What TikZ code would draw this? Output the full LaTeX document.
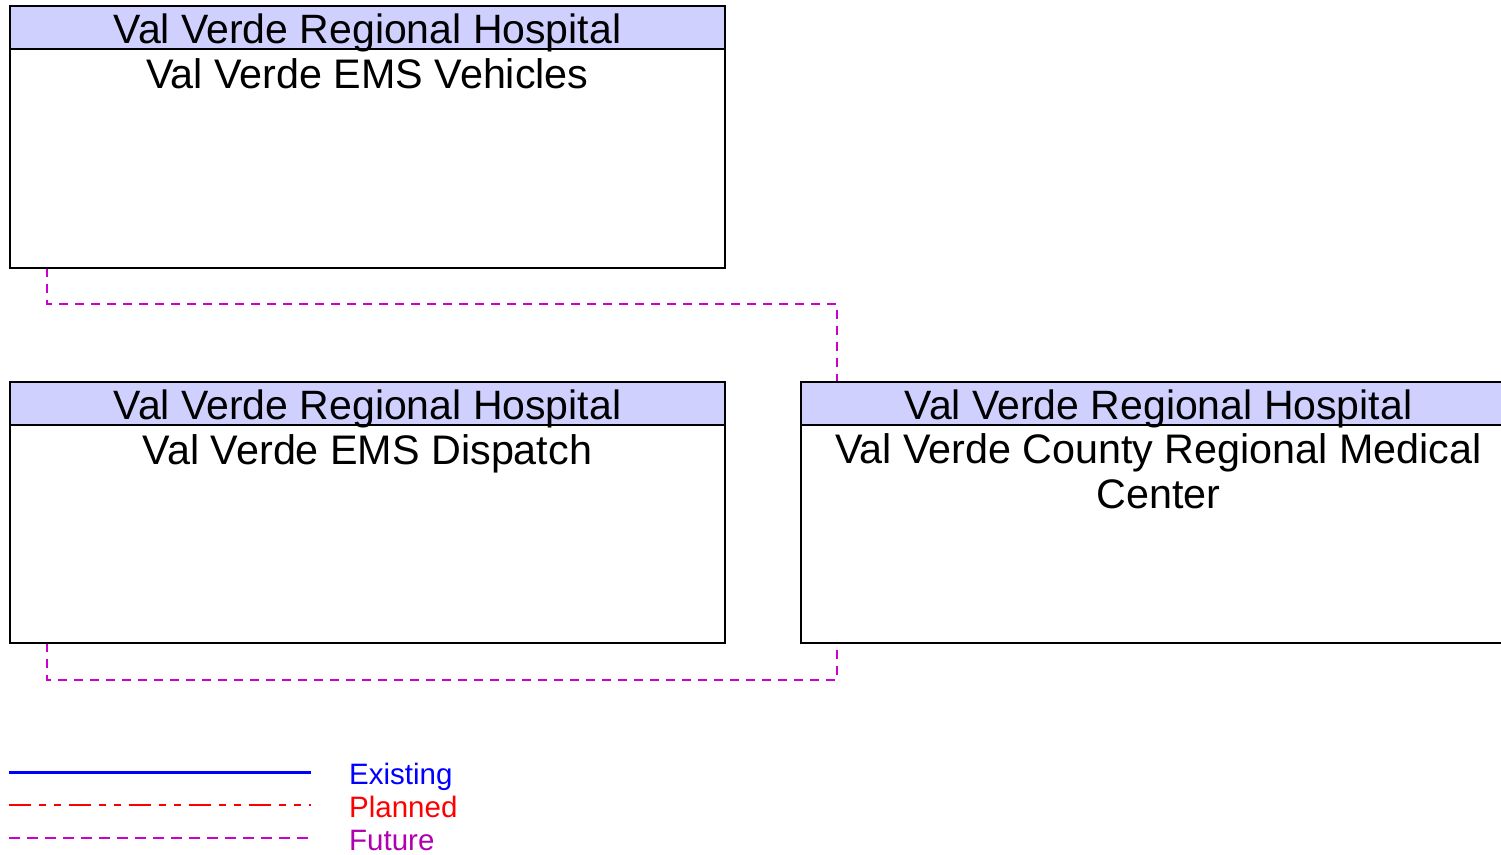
\documentclass[tikz,border=0pt]{standalone}
\usepackage{fontspec}
\setmainfont{Liberation Sans}
\definecolor{hdr}{RGB}{208,208,255}
\definecolor{fut}{RGB}{204,0,204}
\definecolor{futtxt}{RGB}{176,0,176}
\begin{document}
\begin{tikzpicture}[x=1pt,y=-1pt,
  box/.style={draw=black,line width=1.3pt,fill=white},
  hdrbox/.style={draw=black,line width=1.3pt,fill=hdr},
  hdrtext/.style={font=\fontsize{41}{45}\selectfont,inner sep=0pt,anchor=base},
  bodytext/.style={font=\fontsize{41.3}{45}\selectfont,inner sep=0pt,anchor=base,align=center},
  future/.style={draw=fut,line width=1.4pt,dash pattern=on 9pt off 7pt},
  planned/.style={draw=red,line width=1.4pt,dash pattern=on 22pt off 8pt on 7pt off 8pt on 7pt off 8pt},
  existing/.style={draw=blue,line width=3pt},
  legtext/.style={font=\fontsize{29.5}{32}\selectfont,inner sep=0pt,anchor=base west}]
\useasboundingbox (0,0) rectangle (1501,854);
\begin{scope}
\clip (0,0) rectangle (1501,854);
% connectors (drawn first)
\coordinate (v1) at (47,268);
\coordinate (v2) at (47,304);
\coordinate (v3) at (837,304);
\coordinate (v4) at (837,382);
\draw[future] (v1) -- (v2) -- (v3) -- (v4);
\coordinate (d1) at (47,643);
\coordinate (d2) at (47,680);
\coordinate (d3) at (837,680);
\coordinate (d4) at (837,643);
\draw[future] (d1) -- (d2) -- (d3) -- (d4);
% box 1
\draw[box] (10,6) rectangle (725,268);
\draw[hdrbox] (10,6) rectangle (725,49);
\node[hdrtext] (h1) at (367.5,43) {Val Verde Regional Hospital};
\node[bodytext] (b1) at (367.5,88) {Val Verde EMS Vehicles};
% box 2
\draw[box] (10,382) rectangle (725,643);
\draw[hdrbox] (10,382) rectangle (725,425);
\node[hdrtext] (h2) at (367.5,419) {Val Verde Regional Hospital};
\node[bodytext] (b2) at (367.5,464) {Val Verde EMS Dispatch};
% box 3
\draw[box] (801,382) rectangle (1516,643);
\draw[hdrbox] (801,382) rectangle (1516,425);
\node[hdrtext] (h3) at (1158.5,419) {Val Verde Regional Hospital};
\node[bodytext,anchor=north] (b3) at (1158.5,433) {Val Verde County Regional Medical\\Center};
\end{scope}
% legend
\coordinate (le1) at (9,772);
\coordinate (le2) at (311,772);
\draw[existing] (le1) -- (le2);
\coordinate (lp1) at (9,805);
\coordinate (lp2) at (311,805);
\draw[planned] (lp1) -- (lp2);
\coordinate (lf1) at (9,838);
\coordinate (lf2) at (311,838);
\draw[future,dash pattern=on 11pt off 7pt] (lf1) -- (lf2);
\node[legtext,text=blue] (t1) at (349,784) {Existing};
\node[legtext,text=red] (t2) at (349,817) {Planned};
\node[legtext,text=futtxt] (t3) at (349,850) {Future};
\end{tikzpicture}
\end{document}
